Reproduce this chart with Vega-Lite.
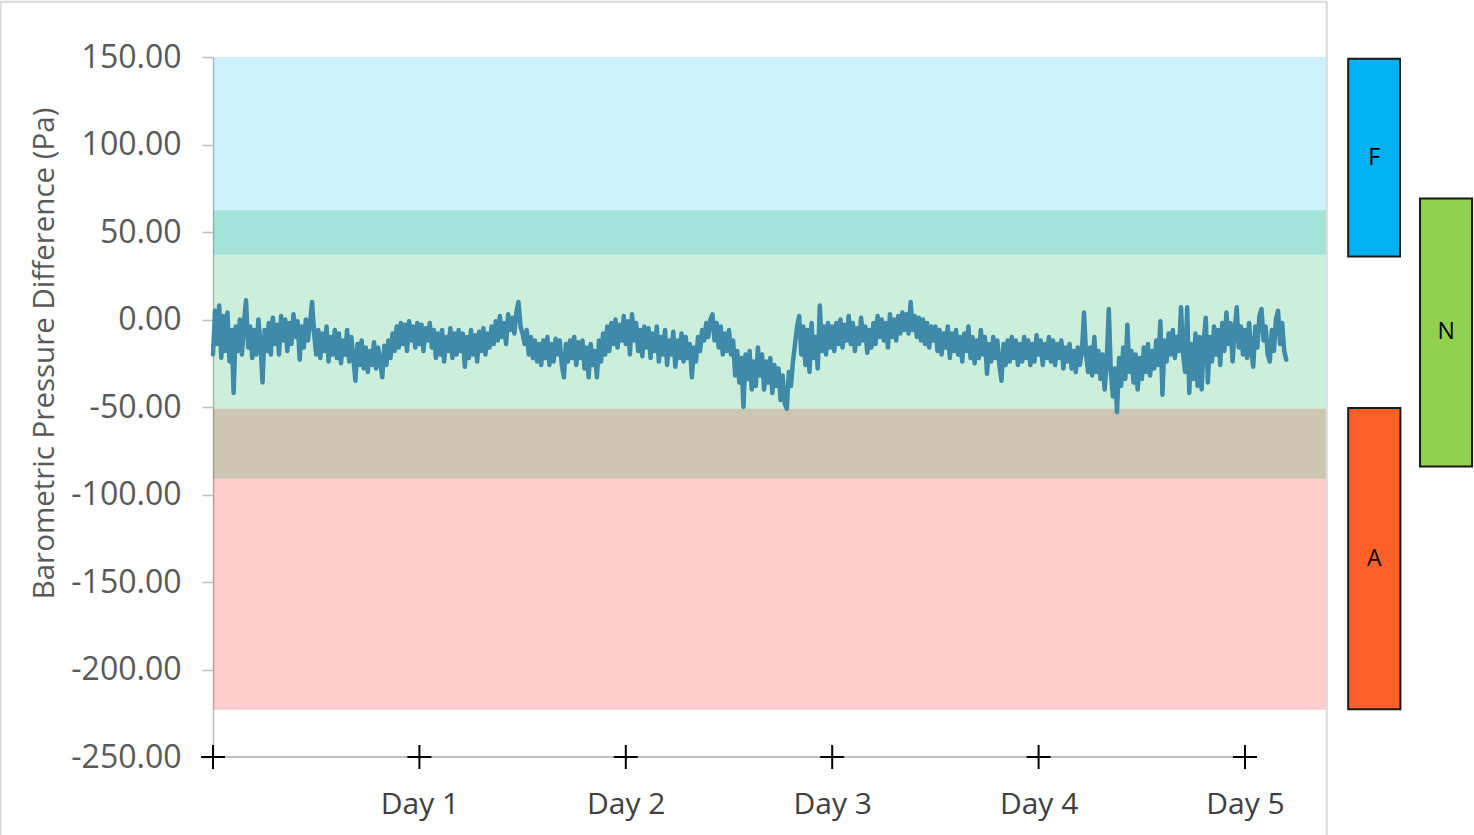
{
  "$schema": "https://vega.github.io/schema/vega-lite/v6.json",
  "autosize": {"type": "none"},
  "padding": {"left": 213, "top": 57, "right": 0, "bottom": 78},
  "width": 1261,
  "height": 700,
  "config": {"font": "Open Sans", "view": {"stroke": null}, "axis": {"grid": false}},
  "datasets": {
    "zones": [
      {"zone": "A", "lo": -223, "hi": -51, "x0": 0, "x1": 5.392},
      {"zone": "F", "lo": 37, "hi": 150, "x0": 0, "x1": 5.392},
      {"zone": "N", "lo": -91, "hi": 62.5, "x0": 0, "x1": 5.392}
    ],
    "boxes": [
      {"label": "F", "lo": 36, "hi": 149, "x0": 5.5, "x1": 5.751},
      {"label": "N", "lo": -84, "hi": 69.2, "x0": 5.848, "x1": 6.1},
      {"label": "A", "lo": -222.7, "hi": -50.6, "x0": 5.5, "x1": 5.753}
    ],
    "frame": [
      {"kind": "axis", "x": 0, "x2": 5, "y": -250, "y2": -250},
      {"kind": "border", "x": -1.0296, "x2": 5.396, "y": 181.6, "y2": 181.6},
      {"kind": "border", "x": -1.0296, "x2": -1.0296, "y": 181.6, "y2": -295},
      {"kind": "border", "x": 5.396, "x2": 5.396, "y": 181.6, "y2": -295}
    ],
    "days": [
      {"day": 0, "y": -250}, {"day": 1, "y": -250}, {"day": 2, "y": -250},
      {"day": 3, "y": -250}, {"day": 4, "y": -250}, {"day": 5, "y": -250}
    ],
    "series": [
      {"t":0.00,"v":-20},{"t":0.01,"v":5},{"t":0.02,"v":-14},{"t":0.03,"v":8},{"t":0.04,"v":-22},{"t":0.05,"v":2},{"t":0.06,"v":-18},{"t":0.07,"v":4},{"t":0.08,"v":-24},{"t":0.09,"v":-6},
      {"t":0.10,"v":-42},{"t":0.11,"v":-4},{"t":0.12,"v":-18},{"t":0.13,"v":0},{"t":0.14,"v":-20},{"t":0.15,"v":-2},{"t":0.16,"v":11},{"t":0.17,"v":-16},{"t":0.18,"v":-4},{"t":0.19,"v":-22},
      {"t":0.20,"v":-6},{"t":0.21,"v":-20},{"t":0.22,"v":0},{"t":0.23,"v":-14},{"t":0.24,"v":-36},{"t":0.25,"v":-6},{"t":0.26,"v":-18},{"t":0.27,"v":-2},{"t":0.28,"v":-20},{"t":0.29,"v":1},
      {"t":0.30,"v":-14},{"t":0.31,"v":-3},{"t":0.32,"v":-20},{"t":0.33,"v":2},{"t":0.34,"v":-12},{"t":0.35,"v":0},{"t":0.36,"v":-18},{"t":0.37,"v":-2},{"t":0.38,"v":-14},{"t":0.39,"v":3},
      {"t":0.40,"v":-10},{"t":0.41,"v":-1},{"t":0.42,"v":-23},{"t":0.43,"v":-4},{"t":0.44,"v":-16},{"t":0.45,"v":0},{"t":0.46,"v":-12},{"t":0.47,"v":-2},{"t":0.48,"v":10},{"t":0.49,"v":-8},
      {"t":0.50,"v":-20},{"t":0.51,"v":-6},{"t":0.52,"v":-22},{"t":0.53,"v":-8},{"t":0.54,"v":-18},{"t":0.55,"v":-4},{"t":0.56,"v":-24},{"t":0.57,"v":-10},{"t":0.58,"v":-20},{"t":0.59,"v":-6},
      {"t":0.60,"v":-22},{"t":0.61,"v":-8},{"t":0.62,"v":-25},{"t":0.63,"v":-12},{"t":0.64,"v":-20},{"t":0.65,"v":-6},{"t":0.66,"v":-24},{"t":0.67,"v":-10},{"t":0.68,"v":-22},{"t":0.69,"v":-35},
      {"t":0.70,"v":-14},{"t":0.71,"v":-26},{"t":0.72,"v":-12},{"t":0.73,"v":-28},{"t":0.74,"v":-16},{"t":0.75,"v":-30},{"t":0.76,"v":-18},{"t":0.77,"v":-26},{"t":0.78,"v":-13},{"t":0.79,"v":-28},
      {"t":0.80,"v":-16},{"t":0.81,"v":-24},{"t":0.82,"v":-33},{"t":0.83,"v":-15},{"t":0.84,"v":-26},{"t":0.85,"v":-12},{"t":0.86,"v":-22},{"t":0.87,"v":-8},{"t":0.88,"v":-18},{"t":0.89,"v":-4},
      {"t":0.90,"v":-16},{"t":0.91,"v":-2},{"t":0.92,"v":-14},{"t":0.93,"v":-3},{"t":0.94,"v":-18},{"t":0.95,"v":-1},{"t":0.96,"v":-12},{"t":0.97,"v":-4},{"t":0.98,"v":-16},{"t":0.99,"v":-2},
      {"t":1.00,"v":-14},{"t":1.01,"v":-3},{"t":1.02,"v":-18},{"t":1.03,"v":-5},{"t":1.04,"v":-12},{"t":1.05,"v":-2},{"t":1.06,"v":-16},{"t":1.07,"v":-6},{"t":1.08,"v":-22},{"t":1.09,"v":-8},
      {"t":1.10,"v":-20},{"t":1.11,"v":-6},{"t":1.12,"v":-24},{"t":1.13,"v":-10},{"t":1.14,"v":-18},{"t":1.15,"v":-5},{"t":1.16,"v":-22},{"t":1.17,"v":-8},{"t":1.18,"v":-20},{"t":1.19,"v":-6},
      {"t":1.20,"v":-18},{"t":1.21,"v":-8},{"t":1.22,"v":-27},{"t":1.23,"v":-10},{"t":1.24,"v":-22},{"t":1.25,"v":-6},{"t":1.26,"v":-20},{"t":1.27,"v":-9},{"t":1.28,"v":-24},{"t":1.29,"v":-7},
      {"t":1.30,"v":-18},{"t":1.31,"v":-5},{"t":1.32,"v":-20},{"t":1.33,"v":-8},{"t":1.34,"v":-16},{"t":1.35,"v":-4},{"t":1.36,"v":-14},{"t":1.37,"v":-1},{"t":1.38,"v":-12},{"t":1.39,"v":2},
      {"t":1.40,"v":-10},{"t":1.41,"v":-2},{"t":1.42,"v":-14},{"t":1.43,"v":3},{"t":1.44,"v":-6},{"t":1.45,"v":1},{"t":1.46,"v":-8},{"t":1.47,"v":4},{"t":1.48,"v":10},{"t":1.49,"v":-4},
      {"t":1.50,"v":-8},{"t":1.51,"v":-14},{"t":1.52,"v":-6},{"t":1.53,"v":-20},{"t":1.54,"v":-10},{"t":1.55,"v":-22},{"t":1.56,"v":-12},{"t":1.57,"v":-24},{"t":1.58,"v":-14},{"t":1.59,"v":-26},
      {"t":1.60,"v":-12},{"t":1.61,"v":-22},{"t":1.62,"v":-10},{"t":1.63,"v":-26},{"t":1.64,"v":-14},{"t":1.65,"v":-24},{"t":1.66,"v":-11},{"t":1.67,"v":-20},{"t":1.68,"v":-12},{"t":1.69,"v":-26},
      {"t":1.70,"v":-33},{"t":1.71,"v":-14},{"t":1.72,"v":-24},{"t":1.73,"v":-12},{"t":1.74,"v":-22},{"t":1.75,"v":-10},{"t":1.76,"v":-26},{"t":1.77,"v":-13},{"t":1.78,"v":-22},{"t":1.79,"v":-12},
      {"t":1.80,"v":-28},{"t":1.81,"v":-16},{"t":1.82,"v":-33},{"t":1.83,"v":-14},{"t":1.84,"v":-26},{"t":1.85,"v":-18},{"t":1.86,"v":-33},{"t":1.87,"v":-12},{"t":1.88,"v":-24},{"t":1.89,"v":-8},
      {"t":1.90,"v":-20},{"t":1.91,"v":-4},{"t":1.92,"v":-18},{"t":1.93,"v":-2},{"t":1.94,"v":-14},{"t":1.95,"v":0},{"t":1.96,"v":-16},{"t":1.97,"v":-3},{"t":1.98,"v":-12},{"t":1.99,"v":2},
      {"t":2.00,"v":-14},{"t":2.01,"v":-1},{"t":2.02,"v":-20},{"t":2.03,"v":3},{"t":2.04,"v":-12},{"t":2.05,"v":-2},{"t":2.06,"v":-18},{"t":2.07,"v":-6},{"t":2.08,"v":-21},{"t":2.09,"v":-4},
      {"t":2.10,"v":-16},{"t":2.11,"v":-5},{"t":2.12,"v":-22},{"t":2.13,"v":-8},{"t":2.14,"v":-18},{"t":2.15,"v":-4},{"t":2.16,"v":-24},{"t":2.17,"v":-10},{"t":2.18,"v":-20},{"t":2.19,"v":-6},
      {"t":2.20,"v":-26},{"t":2.21,"v":-12},{"t":2.22,"v":-20},{"t":2.23,"v":-7},{"t":2.24,"v":-27},{"t":2.25,"v":-12},{"t":2.26,"v":-22},{"t":2.27,"v":-8},{"t":2.28,"v":-24},{"t":2.29,"v":-10},
      {"t":2.30,"v":-22},{"t":2.31,"v":-14},{"t":2.32,"v":-33},{"t":2.33,"v":-16},{"t":2.34,"v":-24},{"t":2.35,"v":-10},{"t":2.36,"v":-18},{"t":2.37,"v":-6},{"t":2.38,"v":-12},{"t":2.39,"v":-2},
      {"t":2.40,"v":-10},{"t":2.41,"v":0},{"t":2.42,"v":3},{"t":2.43,"v":-12},{"t":2.44,"v":-2},{"t":2.45,"v":-16},{"t":2.46,"v":-4},{"t":2.47,"v":-20},{"t":2.48,"v":-8},{"t":2.49,"v":-18},
      {"t":2.50,"v":-6},{"t":2.51,"v":-20},{"t":2.52,"v":-12},{"t":2.53,"v":-32},{"t":2.54,"v":-18},{"t":2.55,"v":-36},{"t":2.56,"v":-22},{"t":2.57,"v":-50},{"t":2.58,"v":-20},{"t":2.59,"v":-34},
      {"t":2.60,"v":-18},{"t":2.61,"v":-40},{"t":2.62,"v":-24},{"t":2.63,"v":-38},{"t":2.64,"v":-16},{"t":2.65,"v":-32},{"t":2.66,"v":-20},{"t":2.67,"v":-40},{"t":2.68,"v":-24},{"t":2.69,"v":-36},
      {"t":2.70,"v":-22},{"t":2.71,"v":-42},{"t":2.72,"v":-26},{"t":2.73,"v":-38},{"t":2.74,"v":-28},{"t":2.75,"v":-46},{"t":2.76,"v":-32},{"t":2.77,"v":-48},{"t":2.78,"v":-51},{"t":2.79,"v":-30},
      {"t":2.80,"v":-38},{"t":2.81,"v":-24},{"t":2.82,"v":-14},{"t":2.83,"v":-4},{"t":2.84,"v":2},{"t":2.85,"v":-20},{"t":2.86,"v":-4},{"t":2.87,"v":-26},{"t":2.88,"v":-6},{"t":2.89,"v":-30},
      {"t":2.90,"v":-2},{"t":2.91,"v":-22},{"t":2.92,"v":-10},{"t":2.93,"v":-28},{"t":2.94,"v":8},{"t":2.95,"v":-18},{"t":2.96,"v":-4},{"t":2.97,"v":-20},{"t":2.98,"v":-2},{"t":2.99,"v":-16},
      {"t":3.00,"v":-4},{"t":3.01,"v":-18},{"t":3.02,"v":-2},{"t":3.03,"v":-14},{"t":3.04,"v":0},{"t":3.05,"v":-16},{"t":3.06,"v":-3},{"t":3.07,"v":-12},{"t":3.08,"v":2},{"t":3.09,"v":-14},
      {"t":3.10,"v":-2},{"t":3.11,"v":-18},{"t":3.12,"v":-5},{"t":3.13,"v":-14},{"t":3.14,"v":1},{"t":3.15,"v":-12},{"t":3.16,"v":-4},{"t":3.17,"v":-19},{"t":3.18,"v":-6},{"t":3.19,"v":-16},
      {"t":3.20,"v":-2},{"t":3.21,"v":-14},{"t":3.22,"v":2},{"t":3.23,"v":-10},{"t":3.24,"v":0},{"t":3.25,"v":-12},{"t":3.26,"v":-2},{"t":3.27,"v":-16},{"t":3.28,"v":3},{"t":3.29,"v":-10},
      {"t":3.30,"v":0},{"t":3.31,"v":-12},{"t":3.32,"v":2},{"t":3.33,"v":-8},{"t":3.34,"v":4},{"t":3.35,"v":-6},{"t":3.36,"v":3},{"t":3.37,"v":-8},{"t":3.38,"v":10},{"t":3.39,"v":-6},
      {"t":3.40,"v":2},{"t":3.41,"v":-10},{"t":3.42,"v":1},{"t":3.43,"v":-12},{"t":3.44,"v":0},{"t":3.45,"v":-14},{"t":3.46,"v":-2},{"t":3.47,"v":-16},{"t":3.48,"v":-4},{"t":3.49,"v":-12},
      {"t":3.50,"v":-4},{"t":3.51,"v":-18},{"t":3.52,"v":-6},{"t":3.53,"v":-20},{"t":3.54,"v":-8},{"t":3.55,"v":-16},{"t":3.56,"v":-4},{"t":3.57,"v":-22},{"t":3.58,"v":-8},{"t":3.59,"v":-18},
      {"t":3.60,"v":-6},{"t":3.61,"v":-20},{"t":3.62,"v":-10},{"t":3.63,"v":-24},{"t":3.64,"v":-8},{"t":3.65,"v":-18},{"t":3.66,"v":-4},{"t":3.67,"v":-22},{"t":3.68,"v":-10},{"t":3.69,"v":-25},
      {"t":3.70,"v":-12},{"t":3.71,"v":-22},{"t":3.72,"v":-6},{"t":3.73,"v":-20},{"t":3.74,"v":-10},{"t":3.75,"v":-31},{"t":3.76,"v":-14},{"t":3.77,"v":-24},{"t":3.78,"v":-10},{"t":3.79,"v":-22},
      {"t":3.80,"v":-12},{"t":3.81,"v":-26},{"t":3.82,"v":-35},{"t":3.83,"v":-14},{"t":3.84,"v":-26},{"t":3.85,"v":-12},{"t":3.86,"v":-24},{"t":3.87,"v":-10},{"t":3.88,"v":-22},{"t":3.89,"v":-12},
      {"t":3.90,"v":-26},{"t":3.91,"v":-14},{"t":3.92,"v":-24},{"t":3.93,"v":-10},{"t":3.94,"v":-22},{"t":3.95,"v":-12},{"t":3.96,"v":-26},{"t":3.97,"v":-14},{"t":3.98,"v":-24},{"t":3.99,"v":-9},
      {"t":4.00,"v":-20},{"t":4.01,"v":-12},{"t":4.02,"v":-26},{"t":4.03,"v":-14},{"t":4.04,"v":-22},{"t":4.05,"v":-10},{"t":4.06,"v":-24},{"t":4.07,"v":-12},{"t":4.08,"v":-26},{"t":4.09,"v":-14},
      {"t":4.10,"v":-22},{"t":4.11,"v":-12},{"t":4.12,"v":-28},{"t":4.13,"v":-16},{"t":4.14,"v":-24},{"t":4.15,"v":-14},{"t":4.16,"v":-28},{"t":4.17,"v":-18},{"t":4.18,"v":-30},{"t":4.19,"v":-16},
      {"t":4.20,"v":-26},{"t":4.21,"v":-18},{"t":4.22,"v":4},{"t":4.23,"v":-20},{"t":4.24,"v":-30},{"t":4.25,"v":-16},{"t":4.26,"v":-32},{"t":4.27,"v":-10},{"t":4.28,"v":-30},{"t":4.29,"v":-18},
      {"t":4.30,"v":-34},{"t":4.31,"v":-20},{"t":4.32,"v":-40},{"t":4.33,"v":-24},{"t":4.34,"v":6},{"t":4.35,"v":-30},{"t":4.36,"v":-44},{"t":4.37,"v":-28},{"t":4.38,"v":-53},{"t":4.39,"v":-22},
      {"t":4.40,"v":-38},{"t":4.41,"v":-16},{"t":4.42,"v":-34},{"t":4.43,"v":-3},{"t":4.44,"v":-30},{"t":4.45,"v":-18},{"t":4.46,"v":-36},{"t":4.47,"v":-20},{"t":4.48,"v":-40},{"t":4.49,"v":-22},
      {"t":4.50,"v":-34},{"t":4.51,"v":-16},{"t":4.52,"v":-30},{"t":4.53,"v":-14},{"t":4.54,"v":-32},{"t":4.55,"v":-18},{"t":4.56,"v":-28},{"t":4.57,"v":-12},{"t":4.58,"v":-26},{"t":4.59,"v":-1},
      {"t":4.60,"v":-43},{"t":4.61,"v":-12},{"t":4.62,"v":-24},{"t":4.63,"v":-8},{"t":4.64,"v":-20},{"t":4.65,"v":-6},{"t":4.66,"v":-22},{"t":4.67,"v":-10},{"t":4.68,"v":-18},{"t":4.69,"v":7},
      {"t":4.70,"v":-20},{"t":4.71,"v":-30},{"t":4.72,"v":7},{"t":4.73,"v":-42},{"t":4.74,"v":-14},{"t":4.75,"v":-34},{"t":4.76,"v":-8},{"t":4.77,"v":-38},{"t":4.78,"v":-10},{"t":4.79,"v":-40},
      {"t":4.80,"v":-12},{"t":4.81,"v":1},{"t":4.82,"v":-36},{"t":4.83,"v":-10},{"t":4.84,"v":-24},{"t":4.85,"v":-4},{"t":4.86,"v":-20},{"t":4.87,"v":-6},{"t":4.88,"v":-26},{"t":4.89,"v":-2},
      {"t":4.90,"v":-18},{"t":4.91,"v":4},{"t":4.92,"v":-14},{"t":4.93,"v":-2},{"t":4.94,"v":-24},{"t":4.95,"v":-6},{"t":4.96,"v":7},{"t":4.97,"v":-16},{"t":4.98,"v":-4},{"t":4.99,"v":-20},
      {"t":5.00,"v":-6},{"t":5.01,"v":-22},{"t":5.02,"v":-2},{"t":5.03,"v":-18},{"t":5.04,"v":-27},{"t":5.05,"v":-4},{"t":5.06,"v":-16},{"t":5.07,"v":2},{"t":5.08,"v":6},{"t":5.09,"v":-12},
      {"t":5.10,"v":-4},{"t":5.11,"v":-20},{"t":5.12,"v":-24},{"t":5.13,"v":-6},{"t":5.14,"v":-18},{"t":5.15,"v":0},{"t":5.16,"v":5},{"t":5.17,"v":-14},{"t":5.18,"v":-2},{"t":5.19,"v":-18},
      {"t":5.20,"v":-23}
    ]
  },
  "layer": [
    {
      "data": {"name": "zones"},
      "mark": {"type": "rect", "opacity": 0.2},
      "encoding": {
        "x": {"field": "x0", "type": "quantitative", "scale": {"domain": [0, 6.1095], "nice": false, "zero": false},
          "axis": {"values": [1, 2, 3, 4, 5], "labelExpr": "'Day ' + datum.value", "ticks": false, "tickSize": 0, "domain": false,
            "labelFontSize": 30, "labelColor": "#404040", "labelPadding": 56, "labelBaseline": "alphabetic", "title": null}},
        "x2": {"field": "x1"},
        "y": {"field": "lo", "type": "quantitative", "scale": {"domain": [-250, 150], "nice": false, "zero": false},
          "axis": {"values": [-250, -200, -150, -100, -50, 0, 50, 100, 150],
            "labelExpr": "(datum.value < 0 ? '-' : '') + format(abs(datum.value), '.2f')",
            "labelFontSize": 32, "labelColor": "#595959", "labelPadding": 21,
            "tickSize": 11, "tickColor": "#bfbfbf", "tickWidth": 1.5,
            "domainColor": "#bfbfbf", "domainWidth": 1.5,
            "title": "Barometric Pressure Difference (Pa)", "titleFontSize": 29.5, "titleFontWeight": "normal",
            "titleColor": "#595959", "titleX": -160, "titleY": 296, "titleAngle": -90, "titleBaseline": "alphabetic", "titleAlign": "center"}},
        "y2": {"field": "hi"},
        "color": {"field": "zone", "type": "nominal", "scale": {"domain": ["F", "N", "A"], "range": ["#00B4F2", "#00B050", "#FF0000"]}, "legend": null}
      }
    },
    {
      "data": {"name": "frame"},
      "mark": {"type": "rule", "strokeWidth": 2},
      "encoding": {
        "x": {"field": "x", "type": "quantitative"},
        "x2": {"field": "x2"},
        "y": {"field": "y", "type": "quantitative"},
        "y2": {"field": "y2"},
        "stroke": {"field": "kind", "type": "nominal", "scale": {"domain": ["axis", "border"], "range": ["#c0c0c0", "#d9d9d9"]}, "legend": null}
      }
    },
    {
      "data": {"name": "series"},
      "mark": {"type": "line", "color": "#3F8AA8", "strokeWidth": 4.5, "strokeJoin": "round", "strokeCap": "round"},
      "encoding": {
        "x": {"field": "t", "type": "quantitative"},
        "y": {"field": "v", "type": "quantitative"}
      }
    },
    {
      "data": {"name": "days"},
      "mark": {"type": "point", "shape": "M-1,0L1,0M0,-1L0,1", "size": 576, "filled": false, "stroke": "#000000", "strokeWidth": 2, "opacity": 1},
      "encoding": {
        "x": {"field": "day", "type": "quantitative"},
        "y": {"field": "y", "type": "quantitative"}
      }
    },
    {
      "data": {"name": "boxes"},
      "mark": {"type": "rect", "stroke": "#1a1a1a", "strokeWidth": 2},
      "encoding": {
        "x": {"field": "x0", "type": "quantitative"},
        "x2": {"field": "x1"},
        "y": {"field": "lo", "type": "quantitative"},
        "y2": {"field": "hi"},
        "fill": {"field": "label", "type": "nominal", "scale": {"domain": ["F", "N", "A"], "range": ["#00B0F0", "#92D050", "#FF6029"]}, "legend": null}
      }
    },
    {
      "data": {"name": "boxes"},
      "transform": [
        {"fold": ["lo", "hi"], "as": ["k1", "yv"]},
        {"fold": ["x0", "x1"], "as": ["k2", "xv"]}
      ],
      "mark": {"type": "text", "fontSize": 23, "color": "#000000", "align": "center", "baseline": "middle"},
      "encoding": {
        "x": {"aggregate": "mean", "field": "xv", "type": "quantitative"},
        "y": {"aggregate": "mean", "field": "yv", "type": "quantitative"},
        "text": {"field": "label", "type": "nominal"}
      }
    }
  ]
}
